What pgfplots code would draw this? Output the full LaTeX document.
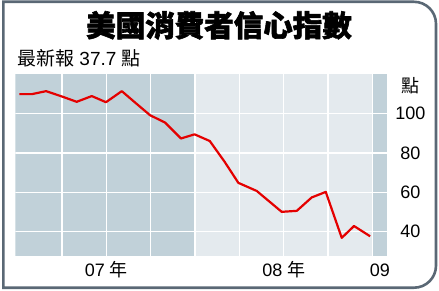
\documentclass[border=0pt]{standalone}
\usepackage{fontspec}
\setmainfont{Liberation Sans}
\newfontfamily\cjk[BoldFeatures={FakeBold=2}]{Noto Sans CJK TC}
\usepackage{pgfplots}
\pgfplotsset{compat=1.18}
\definecolor{shdark}{RGB}{193,209,217}
\definecolor{shlight}{RGB}{228,234,238}
\definecolor{framecol}{RGB}{90,104,117}
\definecolor{linered}{RGB}{228,0,0}
\begin{document}
\begin{tikzpicture}[x=1pt,y=1pt]
\fill[white] (0,0) rectangle (439,290);
\draw[framecol, line width=2.6pt] (3.3,2.3) -- (3.3,288.2) -- (414,288.2) arc[start angle=90,end angle=0,radius=22] -- (436,24.3) arc[start angle=0,end angle=-90,radius=22] -- cycle;
\begin{axis}[
  at={(15.3pt,34pt)}, anchor=south west,
  scale only axis, width=372pt, height=182pt,
  xmin=-0.15, xmax=25, ymin=27.7, ymax=120,
  axis line style={draw=none},
  major tick length=0,
  xtick={6,18,24.5},
  xticklabels={{07 {\cjk 年}},{08 {\cjk 年}},09},
  ytick={40,60,80,100},
  yticklabel pos=right,
  xticklabel style={anchor=base, yshift=-20.7pt},
  yticklabel style={anchor=center, xshift=23pt},
  tick label style={font=\fontsize{18}{20}\selectfont},
  /pgf/number format/assume math mode=true,
]
\addplot[fill=shdark, draw=none] coordinates {(-0.15,120) (12,120)} \closedcycle;
\addplot[fill=shlight, draw=none] coordinates {(12,120) (24,120)} \closedcycle;
\addplot[fill=shdark, draw=none] coordinates {(24,120) (25,120)} \closedcycle;
\pgfplotsinvokeforeach{3,6,...,24}{\draw[white, line width=1.3pt] (axis cs:#1,27.7) -- (axis cs:#1,120);}
\pgfplotsinvokeforeach{40,60,80,100}{\draw[white, line width=1.3pt] (axis cs:-0.15,#1) -- (axis cs:25,#1);}
\addplot[color=linered, line width=2.2pt, line join=round] coordinates {
(0.12,109.8) (0.98,109.8) (1.93,111.3) (3.0,108.6) (4.0,105.9)
(5.02,108.8) (5.98,105.7) (7.05,111.3) (8.0,105.2) (8.96,99.1)
(9.97,95.4) (11.05,87.3) (11.97,89.4) (13.0,86.0) (14.0,75.5)
(14.93,64.8) (16.17,60.7) (17.0,55.5) (17.86,50.1) (18.88,50.6)
(19.89,57.4) (20.84,60.2) (21.92,36.9) (22.75,42.9) (23.84,37.7)
};
\end{axis}
\node[inner sep=0] at (219,264.7) {\fontsize{29.5}{32}\selectfont\cjk\bfseries 美國消費者信心指數};
\node[anchor=west, inner sep=0] at (17,232) {\fontsize{19}{21}\selectfont{\cjk 最新報} 37.7 {\cjk 點}};
\node[inner sep=0] at (410,204) {\fontsize{18}{20}\selectfont\cjk 點};
\end{tikzpicture}
\end{document}
